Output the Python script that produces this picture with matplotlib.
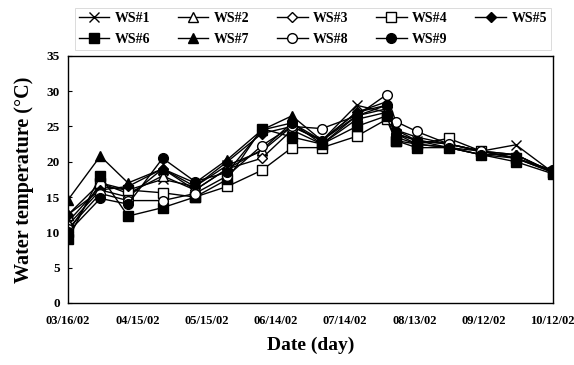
import matplotlib
matplotlib.use("Agg")
import matplotlib.pyplot as plt
import pandas as pd

plt.rcParams['font.family'] = ['Liberation Serif', 'DejaVu Serif']
plt.rcParams['font.weight'] = 'bold'

start = pd.Timestamp("2002-03-16")
days = [0, 14, 26, 41, 55, 69, 84, 97, 110, 125, 138, 142, 151, 165, 179, 194, 210]
dates = [start + pd.Timedelta(days=d) for d in days]

ws1 = [11.5, 16.5, 16.0, 17.5, 16.5, 19.5, 21.5, 25.0, 23.0, 28.0, 27.0, 24.0, 23.0, 22.5, 21.5, 22.4, 18.5]
ws2 = [12.5, 17.0, 15.5, 18.0, 16.0, 19.0, 21.7, 25.5, 22.5, 26.5, 27.5, 24.0, 23.0, 22.5, 21.5, 21.0, 18.5]
ws3 = [11.0, 16.0, 15.0, 19.0, 16.0, 19.0, 20.5, 24.5, 22.5, 26.0, 27.0, 23.5, 22.5, 22.0, 21.5, 20.5, 18.5]
ws4 = [10.0, 17.0, 16.0, 15.6, 15.0, 16.5, 18.8, 22.0, 22.0, 23.6, 26.0, 23.0, 22.5, 23.3, 21.5, 20.5, 18.5]
ws5 = [12.5, 16.0, 16.5, 19.0, 16.5, 20.0, 24.0, 25.0, 23.0, 27.0, 28.0, 24.5, 23.0, 22.0, 21.0, 21.0, 18.5]
ws6 = [9.0, 18.0, 12.3, 13.5, 15.0, 17.5, 24.7, 23.5, 22.5, 25.0, 26.5, 23.0, 22.0, 22.0, 21.0, 20.0, 18.3]
ws7 = [14.6, 20.8, 17.0, 19.0, 17.0, 20.3, 24.5, 26.5, 23.0, 27.0, 28.5, 24.5, 23.5, 22.5, 21.5, 21.0, 18.5]
ws8 = [10.5, 15.5, 14.5, 14.5, 15.5, 18.0, 22.3, 25.0, 24.7, 26.5, 29.5, 25.7, 24.3, 22.5, 21.5, 20.5, 18.8]
ws9 = [10.0, 14.8, 14.0, 20.5, 17.2, 18.5, 24.5, 25.5, 23.0, 26.5, 28.0, 24.0, 22.5, 22.0, 21.0, 20.5, 18.8]

labels = ["WS#1", "WS#2", "WS#3", "WS#4", "WS#5", "WS#6", "WS#7", "WS#8", "WS#9"]
series = [ws1, ws2, ws3, ws4, ws5, ws6, ws7, ws8, ws9]
markers = ["x", "^", "D", "s", "D", "s", "^", "o", "o"]
filled = [True, False, False, False, True, True, True, False, True]
msizes = [7, 6.5, 5, 7, 5, 7, 7, 7, 7]

xtick_labels = ["03/16/02", "04/15/02", "05/15/02", "06/14/02", "07/14/02", "08/13/02", "09/12/02", "10/12/02"]
yticks = [0, 5, 10, 15, 20, 25, 30, 35]

fig = plt.figure(figsize=(5.74, 3.65), dpi=100)
ax = fig.add_axes([0.1185, 0.170, 0.8445, 0.677])

handles = []
for lab, vals, m, f, ms in zip(labels, series, markers, filled, msizes):
    h, = ax.plot(dates, vals, color="black", linewidth=1.0, marker=m, markersize=ms,
                 markerfacecolor=("black" if f else "white"), markeredgecolor="black",
                 markeredgewidth=1.0, label=lab)
    handles.append(h)

tick_dates = [start + pd.Timedelta(days=30 * i) for i in range(len(xtick_labels))]
ax.set_xticks(tick_dates)
ax.set_xticklabels(xtick_labels, fontsize=9, fontweight="bold")
ax.set_xlim(start, start + pd.Timedelta(days=210))
ax.set_ylim(0, 35)
ax.set_yticks(yticks)
ax.set_yticklabels([str(v) for v in yticks], fontsize=9.5, fontweight="bold")
ax.tick_params(axis="x", length=0, pad=9)
ax.tick_params(axis="y", length=3, direction="in", pad=6)
for s in ax.spines.values():
    s.set_linewidth(1.0)

ax.set_xlabel("Date (day)", fontsize=14, fontweight="bold", labelpad=7)
ax.set_ylabel("Water temperature (\u00b0C)", fontsize=14.5, fontweight="bold", labelpad=9)

# row-major legend order (matplotlib fills columns first)
order = [0, 5, 1, 6, 2, 7, 3, 8, 4]
leg = fig.legend([handles[i] for i in order], [labels[i] for i in order],
                 loc="upper left", bbox_to_anchor=(0.13, 0.868, 0.83, 0.11), mode="expand",
                 ncol=5, fontsize=10, frameon=True, fancybox=False, edgecolor="#cccccc",
                 handlelength=2.2, handletextpad=0.4, columnspacing=1.0,
                 borderaxespad=0.0, labelspacing=0.55, borderpad=0.3)
leg.get_frame().set_linewidth(0.6)
for t in leg.get_texts():
    t.set_fontweight("bold")

fig.savefig("out.png", dpi=100)
